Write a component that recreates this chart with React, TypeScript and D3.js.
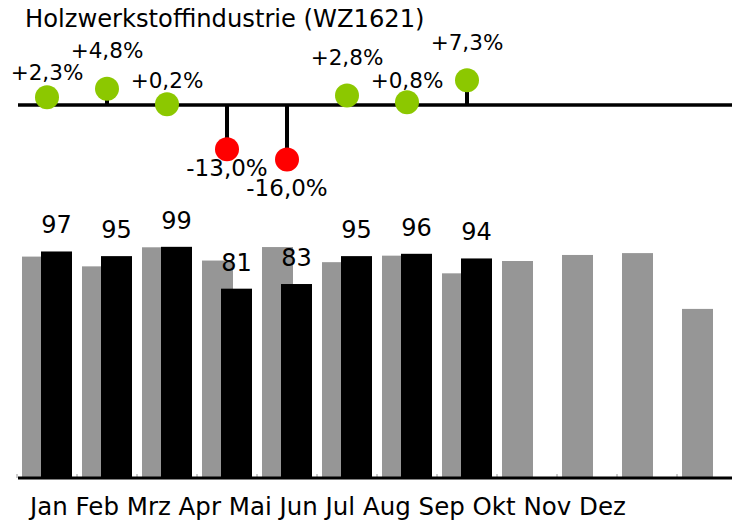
import React from "react";
import * as d3 from "d3";

const title = "Holzwerkstoffindustrie (WZ1621)";
const months = ["Jan", "Feb", "Mrz", "Apr", "Mai", "Jun", "Jul", "Aug", "Sep", "Okt", "Nov", "Dez"];
const prevYear = [94.8, 90.6, 98.8, 93.1, 98.9, 92.4, 95.2, 87.6, 92.9, 95.5, 96.3, 72.3];
const currYear = [97, 95, 99, 81, 83, 95, 96, 94];
const changePct = [2.3, 4.8, 0.2, -13.0, -16.0, 2.8, 0.8, 7.3];

// layout: label baseline offset from dot centre
const labelDy = [-17, -31, -16, 27, 37, -30, -14, -30];

const W = 732;
const H = 524;
const FONT = "'DejaVu Sans', sans-serif";
const GREEN = "#8cc800";
const RED = "#ff0000";
const GRAY = "#969696";

const locale = d3.formatLocale({
  decimal: ",",
  thousands: ".",
  grouping: [3],
  currency: ["", "€"],
  minus: "-",
});
const fmtPct = (v: number) => locale.format("+.1f")(v) + "%";

export default function App() {
  const x = d3
    .scaleBand<string>()
    .domain(months)
    .range([17, 737])
    .paddingInner(1 / 6)
    .paddingOuter(1 / 12);
  const bw = x.bandwidth();
  const y = d3.scaleLinear().domain([0, 100]).range([477, 244.5]);
  const yPct = d3.scaleLinear().domain([-20, 10]).range([173, 71]);
  const base = yPct(0);
  const cx = (i: number) => (x(months[i]) as number) + bw / 2;

  return (
    <svg
      width={W}
      height={H}
      style={{ position: "absolute", left: 0, top: 0, display: "block", background: "#fff" }}
      fontFamily={FONT}
    >
      <text x={25} y={27} fontSize={24.2} fill="#000">
        {title}
      </text>

      {/* lollipop baseline */}
      <line x1={18} x2={W} y1={base} y2={base} stroke="#000" strokeWidth={3.5} />
      {changePct.map((v, i) => (
        <g key={"p" + i}>
          <line x1={cx(i)} x2={cx(i)} y1={base} y2={yPct(v)} stroke="#000" strokeWidth={4} />
          <circle cx={cx(i)} cy={yPct(v)} r={12} fill={v >= 0 ? GREEN : RED} />
          <text
            x={cx(i)}
            y={yPct(v) + labelDy[i]}
            textAnchor="middle"
            fontSize={v >= 0 ? 21.5 : 23}
            fill="#000"
          >
            {fmtPct(v)}
          </text>
        </g>
      ))}

      {/* bars */}
      {prevYear.map((v, i) => (
        <rect
          key={"g" + i}
          x={x(months[i]) as number}
          y={y(v)}
          width={bw * 0.62}
          height={y(0) - y(v)}
          fill={GRAY}
        />
      ))}
      {currYear.map((v, i) => (
        <rect
          key={"b" + i}
          x={(x(months[i]) as number) + bw * 0.38}
          y={y(v)}
          width={bw * 0.62}
          height={y(0) - y(v)}
          fill="#000"
        />
      ))}
      {currYear.map((v, i) => (
        <text
          key={"l" + i}
          x={(x(months[i]) as number) + bw * 0.38 + (bw * 0.62) / 2}
          y={y(v) - 18}
          textAnchor="middle"
          fontSize={24}
          fill="#000"
        >
          {v}
        </text>
      ))}

      {/* bottom axis */}
      {months.map((m, i) => (
        <line
          key={"t" + i}
          x1={(x(m) as number) - 5}
          x2={(x(m) as number) - 5}
          y1={474}
          y2={478}
          stroke="#999"
          strokeWidth={1}
        />
      ))}
      <line x1={18} x2={W} y1={478} y2={478} stroke="#000" strokeWidth={3} />

      <text x={30} y={515} fontSize={24.5} fill="#000">
        {months.map((m, i) => (
          <tspan key={m}>{(i ? " " : "") + m}</tspan>
        ))}
      </text>
    </svg>
  );
}
